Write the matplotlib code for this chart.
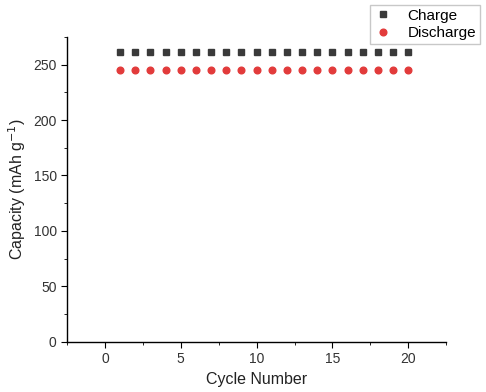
import numpy as np
import matplotlib.pyplot as plt
from matplotlib.ticker import MultipleLocator

plt.rcParams['font.family'] = ['Liberation Sans', 'DejaVu Sans']

cycles = list(range(1, 21))
charge = [261.5] * 20
discharge = [245.0] * 20

fig = plt.figure(figsize=(4.86, 3.92), dpi=100)
ax = fig.add_axes([0.138, 0.128, 0.780, 0.778])

ax.plot(cycles, charge, 's', color='#3a3a3a', markersize=4.2, label='Charge')
ax.plot(cycles, discharge, 'o', color='#e23b3b', markersize=4.8, label='Discharge')

ax.set_xlim(-2.5, 22.5)
ax.set_ylim(0, 275)
ax.xaxis.set_major_locator(MultipleLocator(5))
ax.xaxis.set_minor_locator(MultipleLocator(2.5))
ax.yaxis.set_major_locator(MultipleLocator(50))
ax.yaxis.set_minor_locator(MultipleLocator(25))
ax.spines['top'].set_visible(False)
ax.spines['right'].set_visible(False)
for s in ['left', 'bottom']:
    ax.spines[s].set_linewidth(1.0)
ax.tick_params(which='major', direction='out', length=4, labelsize=10,
               labelcolor='#333333')
ax.tick_params(which='minor', direction='out', length=2.5)

ax.set_xlabel('Cycle Number', fontsize=11.5, color='#222222')
ax.set_ylabel('Capacity (mAh g$^{-1}$)', fontsize=11.5, color='#222222')

fig.legend(loc='upper right', bbox_to_anchor=(0.988, 0.988), fontsize=11,
           frameon=True, fancybox=False, edgecolor='#bbbbbb',
           handletextpad=1.0, borderpad=0.25, labelspacing=0.25,
           handlelength=1.2, borderaxespad=0.0)

fig.savefig('out.png', dpi=100)
